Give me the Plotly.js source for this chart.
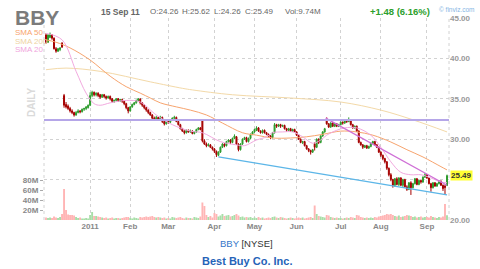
<!DOCTYPE html>
<html><head><meta charset="utf-8">
<script src="https://cdn.plot.ly/plotly-3.0.1.min.js"></script>
<style>html,body{margin:0;padding:0;background:#fff}#chart{width:480px;height:269px}</style>
</head><body><div id="chart"></div>
<script>
// trading-day index 0 = 1 Dec 2010 ... 200 = 15 Sep 2011
const opens = [42.9,42.0,42.6,42.9,42.5,41.2,40.9,41.1,41.9,35.4,34.3,34.1,33.8,33.5,33.3,33.0,33.3,33.5,33.4,33.7,33.8,33.9,
34.2,35.4,35.8,35.5,35.7,35.5,35.2,35.5,35.3,35.1,35.3,35.0,34.7,34.8,35.0,34.8,34.9,34.7,34.4,33.9,
33.5,34.0,34.3,34.5,34.8,35.0,34.5,34.2,33.9,33.6,33.3,33.0,32.6,32.4,32.7,32.5,32.7,32.2,31.9,
32.2,32.1,32.4,32.6,32.7,32.2,31.8,31.3,31.0,30.8,31.1,30.9,31.0,30.7,30.9,31.2,31.4,32.3,29.8,29.4,29.2,29.3,29.0,
28.8,28.5,28.0,28.4,29.0,29.4,29.2,29.7,29.9,29.6,30.1,30.3,29.4,28.7,29.4,30.0,30.2,29.7,30.1,30.6,
30.9,31.1,31.4,31.0,30.8,31.1,30.8,30.6,30.4,30.2,30.8,31.8,31.6,31.8,31.6,31.7,31.3,31.1,31.3,31.0,31.2,
30.9,30.5,30.0,29.6,29.7,29.2,28.8,28.6,28.4,29.4,29.0,30.0,29.6,30.4,30.9,32.5,31.9,31.5,32.0,31.6,31.9,31.6,
31.8,32.1,32.0,32.3,32.2,32.4,31.8,31.4,31.6,31.0,29.6,29.3,29.0,29.2,28.9,29.1,29.5,29.7,29.3,29.0,
28.4,28.0,27.6,27.2,26.4,25.6,25.0,24.3,25.1,24.4,25.2,24.3,25.0,24.1,23.8,24.6,24.0,24.5,25.1,24.4,24.9,24.7,25.3,
25.6,25.2,24.5,24.0,24.6,24.2,24.5,24.8,24.3,24.2,24.26];
const highs = [43.1,43.0,43.2,43.0,42.6,41.4,41.3,41.4,42.0,35.6,34.6,34.3,34.0,33.7,33.4,33.5,33.7,33.6,33.8,33.9,34.1,34.3,
35.8,36.0,35.9,35.8,35.8,35.6,35.6,35.6,35.4,35.4,35.4,35.1,34.9,35.1,35.1,35.0,35.0,34.8,34.5,34.0,
34.1,34.4,34.6,34.9,35.1,35.0,34.6,34.3,34.0,33.7,33.4,33.1,32.8,32.9,32.8,32.9,32.8,32.3,32.3,
32.4,32.5,32.7,32.9,32.8,32.3,31.9,31.4,31.1,31.2,31.2,31.2,31.1,31.0,31.3,31.5,31.5,32.5,30.0,29.6,29.5,29.4,29.1,
28.9,28.6,28.5,29.1,29.5,29.5,29.8,30.0,30.0,30.2,30.6,30.4,29.5,29.5,30.1,30.3,30.3,30.2,30.7,31.0,
31.3,31.6,31.5,31.1,31.2,31.2,30.9,30.7,30.5,30.9,32.0,31.9,31.9,31.9,31.8,31.8,31.4,31.4,31.4,31.3,31.3,
31.0,30.6,30.1,29.8,29.8,29.3,28.9,28.7,28.8,29.6,30.1,30.1,30.5,31.0,31.4,32.7,32.0,32.1,32.1,32.0,32.0,31.9,
32.2,32.2,32.4,32.4,32.7,32.5,31.9,31.7,31.7,31.1,29.7,29.4,29.3,29.3,29.2,29.6,29.8,29.8,29.4,29.1,
28.5,28.1,27.7,27.3,26.5,25.8,25.1,25.2,25.3,25.3,25.3,25.1,25.1,24.3,24.7,24.8,24.6,25.2,25.2,25.0,25.0,25.4,25.8,
25.7,25.3,24.6,24.7,24.7,24.6,24.9,24.9,24.4,24.4,25.62];
const lows = [41.8,41.9,42.5,42.3,41.1,40.7,40.8,40.9,41.3,33.9,33.8,33.6,33.3,33.1,32.8,32.9,33.2,33.2,33.3,33.5,33.6,33.8,
34.1,35.2,35.3,35.3,35.2,35.0,35.1,35.1,34.9,35.0,34.8,34.5,34.5,34.7,34.6,34.6,34.5,34.2,33.7,33.2,
33.4,33.9,34.2,34.4,34.6,34.3,34.0,33.7,33.4,33.1,32.9,32.5,32.3,32.3,32.3,32.4,32.0,31.7,31.8,
31.9,32.0,32.3,32.5,32.1,31.7,31.2,30.9,30.6,30.7,30.8,30.8,30.6,30.6,30.8,31.1,31.1,29.6,29.3,29.0,29.1,28.9,28.6,
28.3,27.8,27.9,28.3,28.9,29.0,29.1,29.6,29.4,29.5,30.0,29.3,28.5,28.6,29.3,29.9,29.6,29.6,30.0,30.5,
30.8,31.0,30.9,30.7,30.7,30.7,30.5,30.3,30.0,30.1,30.7,31.4,31.5,31.4,31.5,31.2,30.9,31.0,30.9,30.9,30.8,
30.4,29.9,29.5,29.4,29.1,28.7,28.4,28.1,28.3,28.6,28.9,29.4,29.5,30.3,30.8,31.8,31.4,31.4,31.5,31.5,31.5,31.5,
31.7,31.8,31.9,32.0,32.1,31.7,31.3,31.3,30.9,29.5,29.2,28.8,28.9,28.8,28.8,29.0,29.4,29.2,28.9,28.3,
27.8,27.4,27.0,26.2,25.4,24.8,24.0,24.1,24.3,24.2,24.2,24.1,24.0,23.6,23.7,23.1,23.9,24.4,24.3,24.3,24.5,24.6,25.2,
25.1,24.4,23.5,23.9,24.1,24.1,24.4,24.2,23.6,23.1,24.26];
const closes = [42.0,42.9,43.0,42.5,41.2,40.9,41.2,41.3,41.4,34.2,34.0,33.8,33.5,33.3,33.0,33.3,33.5,33.4,33.7,33.8,34.0,34.2,
35.4,35.8,35.5,35.7,35.4,35.2,35.5,35.3,35.1,35.3,35.0,34.7,34.8,35.0,34.8,34.9,34.7,34.4,33.9,33.5,
34.0,34.3,34.5,34.8,35.0,34.5,34.2,33.9,33.6,33.3,33.0,32.6,32.4,32.7,32.5,32.7,32.2,31.9,32.2,
32.1,32.4,32.6,32.7,32.2,31.8,31.3,31.0,30.8,31.1,30.9,31.0,30.7,30.9,31.2,31.4,31.2,29.8,29.4,29.2,29.3,29.0,28.8,
28.5,28.1,28.4,29.0,29.4,29.2,29.7,29.9,29.6,30.1,30.4,29.4,28.7,29.4,30.0,30.2,29.7,30.1,30.6,30.9,
31.2,31.4,31.0,30.8,31.1,30.8,30.6,30.4,30.2,30.8,31.8,31.6,31.8,31.6,31.7,31.3,31.1,31.3,31.0,31.2,30.9,
30.5,30.0,29.6,29.7,29.2,28.8,28.6,28.4,28.7,29.0,30.0,29.6,30.4,30.9,31.3,31.9,31.5,32.0,31.6,31.9,31.6,31.8,
32.1,32.0,32.3,32.2,32.4,31.8,31.4,31.6,31.0,29.6,29.3,29.0,29.2,28.9,29.1,29.5,29.7,29.3,29.0,28.4,
28.0,27.6,27.2,26.4,25.6,25.0,24.3,25.1,24.4,25.2,24.3,25.0,24.1,23.8,24.6,24.0,24.5,25.1,24.4,24.9,24.7,25.3,25.6,
25.2,24.5,24.0,24.6,24.2,24.5,24.8,24.3,23.9,24.01,25.49];
// volume in millions
const volumes = [5,4,5,4,7,5,4,6,12,62,20,11,10,10,9,6,4,5,3,3,4,3,
10,16,8,8,7,6,5,4,5,3,4,5,3,4,4,3,4,5,6,6,
4,3,5,4,3,6,5,6,7,6,7,8,6,5,6,5,4,5,3,
4,3,6,5,4,5,6,4,3,5,4,4,3,6,5,4,7,35,28,10,6,8,5,
14,12,7,9,12,8,9,10,7,8,10,12,9,6,7,5,6,5,6,4,
5,4,6,4,5,3,4,5,4,6,7,5,4,6,5,4,3,4,5,4,3,
4,5,4,5,3,4,5,6,4,29,12,8,7,6,5,10,9,6,5,4,5,4,
4,3,4,5,4,6,5,4,10,9,6,5,4,5,4,5,4,6,5,7,
8,9,10,12,11,12,10,8,7,9,6,7,8,10,9,8,6,7,5,6,7,5,6,
6,5,8,6,5,4,6,5,7,32,9.74];
// moving averages (index, value)
const sma20X = [0,8,15,20,24,27,32,40,47,55,63,72,78,87,95,99,105,110,113,118,123,128,133,137,140,145,149,155,162,167,172,177,182,187,192,197,200];
const sma20Y = [43.1,42.3,38.4,35.7,34.4,34.2,34.5,34.8,34.6,33.0,31.8,31.0,30.8,29.7,29.3,29.2,29.9,30.3,30.8,30.9,30.9,30.3,29.5,29.9,30.5,31.1,31.4,31.4,30.5,29.0,27.2,25.9,25.6,25.6,25.2,24.7,24.6];
const sma50X = [0,5,12,22,32,40,47,52,57,65,72,80,88,98,105,113,122,130,138,147,155,163,172,180,188,197,200];
const sma50Y = [42.3,42.0,41.3,39.8,37.8,36.5,35.7,35.1,34.5,34.0,33.6,33.0,32.0,30.8,30.5,30.15,30.15,30.3,30.6,31.0,30.9,30.5,29.65,28.7,27.8,26.6,26.2];
const sma200X = [0,10,27,52,68,73,93,122,147,167,183,200];
const sma200Y = [38.6,38.8,38.4,37.1,36.3,36.1,35.5,35.1,34.6,33.6,32.4,30.9];
// drawn trend lines
const downTrendX = [139.5,200], downTrendY = [32.6,24.3];
const supportX = [86,200], supportY = [27.8,23.1];
const resistanceLevel = 32.38;
// axis ticks
const monthIdx = [22,42,61,84,104,125,147,167,190];
const monthLabels = ["2011","Feb","Mar","Apr","May","Jun","Jul","Aug","Sep"];
const priceTicks = [20,25,30,35,40,45];
const volTicks = [20,40,60,80];
const ticker = "BBY", exchange = "NYSE", company = "Best Buy Co. Inc.", dateLabel = "15 Sep 11";

const n = closes.length;
const idx = closes.map((_, i) => i);
const last = n - 1;
const chg = closes[last] - closes[last - 1];
const pct = chg / closes[last - 1] * 100;
const volColors = idx.map(i => closes[i] >= opens[i] ? '#a8dea8' : '#ffb5b5');

const L = 44, R = 449, T = 18, B = 220;
const px = x => (x - L) / (R - L);
const py = y => (B - y) / (B - T);
const FONT = 'Liberation Sans, Arial, sans-serif';

const traces = [
  {type:'bar', x: idx, y: volumes, yaxis:'y2', marker:{color: volColors, line:{width:0}}, width:0.95, hoverinfo:'skip'},
  {type:'scatter', mode:'lines', x: sma200X, y: sma200Y, line:{color:'#f3d9a8', width:1, shape:'spline'}, hoverinfo:'skip'},
  {type:'scatter', mode:'lines', x: sma50X, y: sma50Y, line:{color:'#f7a46e', width:1, shape:'spline'}, hoverinfo:'skip'},
  {type:'scatter', mode:'lines', x: sma20X, y: sma20Y, line:{color:'#f2a9df', width:1, shape:'spline'}, hoverinfo:'skip'},
  {type:'scatter', mode:'lines', x: supportX, y: supportY, line:{color:'#5cb6e8', width:1.3}, hoverinfo:'skip'},
  {type:'scatter', mode:'lines', x: downTrendX, y: downTrendY, line:{color:'#cf6fd6', width:1.3}, hoverinfo:'skip'},
  {type:'candlestick', x: idx, open: opens, high: highs, low: lows, close: closes, whiskerwidth:0,
   increasing:{line:{color:'#2e9c2e', width:1}, fillcolor:'#2e9c2e'},
   decreasing:{line:{color:'#a50000', width:1}, fillcolor:'#a50000'}, hoverinfo:'skip'}
];

const ann = (o) => Object.assign({xref:'paper', yref:'paper', showarrow:false, xanchor:'left', yanchor:'middle', borderpad:0}, o);
const hdr = {family:FONT, size:8, color:'#666'};
const annotations = [
  ann({x:px(14), y:py(17), text:ticker, font:{family:FONT, size:21, color:'#7b7b7b', weight:'bold'}}),
  ann({x:px(100), y:py(12), text:dateLabel, font:{family:FONT, size:8.5, color:'#666', weight:'bold'}}),
  ann({x:px(149), y:py(12), text:'O:' + opens[last].toFixed(2), font:hdr}),
  ann({x:px(181), y:py(12), text:'H:' + highs[last].toFixed(2), font:hdr}),
  ann({x:px(213), y:py(12), text:'L:' + lows[last].toFixed(2), font:hdr}),
  ann({x:px(244), y:py(12), text:'C:' + closes[last].toFixed(2), font:hdr}),
  ann({x:px(284), y:py(12), text:'Vol:' + volumes[last].toFixed(2) + 'M', font:hdr}),
  ann({x:px(369), y:py(12), text:(chg>=0?'+':'') + chg.toFixed(2) + ' (' + pct.toFixed(2) + '%)', font:{family:FONT, size:9.5, color:'#2ca02c', weight:'bold'}}),
  ann({x:px(438), y:py(10), text:'\u00a9 finviz.com', font:{family:FONT, size:6.5, color:'#86b6e4'}}),
  ann({x:px(14), y:py(33), text:'SMA 50', font:{family:FONT, size:8, color:'#f7a46e'}}),
  ann({x:px(14), y:py(41), text:'SMA 200', font:{family:FONT, size:8, color:'#eed3a2'}}),
  ann({x:px(14), y:py(49), text:'SMA 20', font:{family:FONT, size:8, color:'#f0a5dc'}}),
  ann({x:px(31), y:py(103), xanchor:'center', text:'DAILY', textangle:-90, font:{family:FONT, size:10, color:'#dadada', weight:'bold'}}),
  ann({x:px(450), yref:'y', y:closes[last], text:closes[last].toFixed(2), bgcolor:'#ffff33', borderpad:0, font:{family:FONT, size:8, color:'#333', weight:'bold'}}),
  ann({x:px(246.5), y:py(243), xanchor:'center', text:'<span style="color:#3577c9">' + ticker + '</span> [' + exchange + ']', font:{family:FONT, size:9.5, color:'#333'}}),
  ann({x:px(246.5), y:py(261), xanchor:'center', text:company, font:{family:FONT, size:11, color:'#2563b8', weight:'bold'}})
];

const grid = {color:'#d2d2d2', width:1, dash:'dot'};
const layout = {
  width:480, height:269, margin:{l:L, r:480-R, t:T, b:269-B},
  paper_bgcolor:'#fff', plot_bgcolor:'#fff', showlegend:false, font:{family:FONT},
  xaxis:{range:[-1,201], tickmode:'array', tickvals:monthIdx, ticktext:monthLabels, showgrid:true, gridcolor:'#d2d2d2', griddash:'dot',
         zeroline:false, showline:false, ticks:'', tickfont:{size:8, color:'#888', weight:'bold'}, rangeslider:{visible:false}, fixedrange:true},
  // the 25.00 label sits under the highlighted last-price box, so it is left blank
  yaxis:{side:'right', range:[20,45], tickmode:'array', tickvals:priceTicks, ticktext:priceTicks.map(v=>v===25?'':v.toFixed(2)),
         showgrid:true, gridcolor:'#d2d2d2', griddash:'dot', zeroline:false, showline:false, ticks:'', tickfont:{size:8, color:'#999', weight:'bold'}},
  yaxis2:{overlaying:'y', side:'left', range:[0,404], tickmode:'array', tickvals:volTicks, ticktext:volTicks.map(v=>v+'M'),
          showgrid:false, zeroline:false, showline:false, ticks:'outside', ticklen:3, tickcolor:'#aaa', tickfont:{size:8, color:'#888', weight:'bold'}},
  shapes:[
    {type:'line', xref:'paper', yref:'paper', x0:0, x1:0, y0:0, y1:1, line:grid},
    {type:'line', xref:'paper', yref:'paper', x0:1, x1:1, y0:0, y1:1, line:grid},
    {type:'line', xref:'paper', yref:'y', x0:0, x1:1, y0:resistanceLevel, y1:resistanceLevel, line:{color:'#b5a6e8', width:2}}
  ],
  annotations: annotations
};
Plotly.newPlot('chart', traces, layout, {staticPlot:true, displayModeBar:false});
</script></body></html>
